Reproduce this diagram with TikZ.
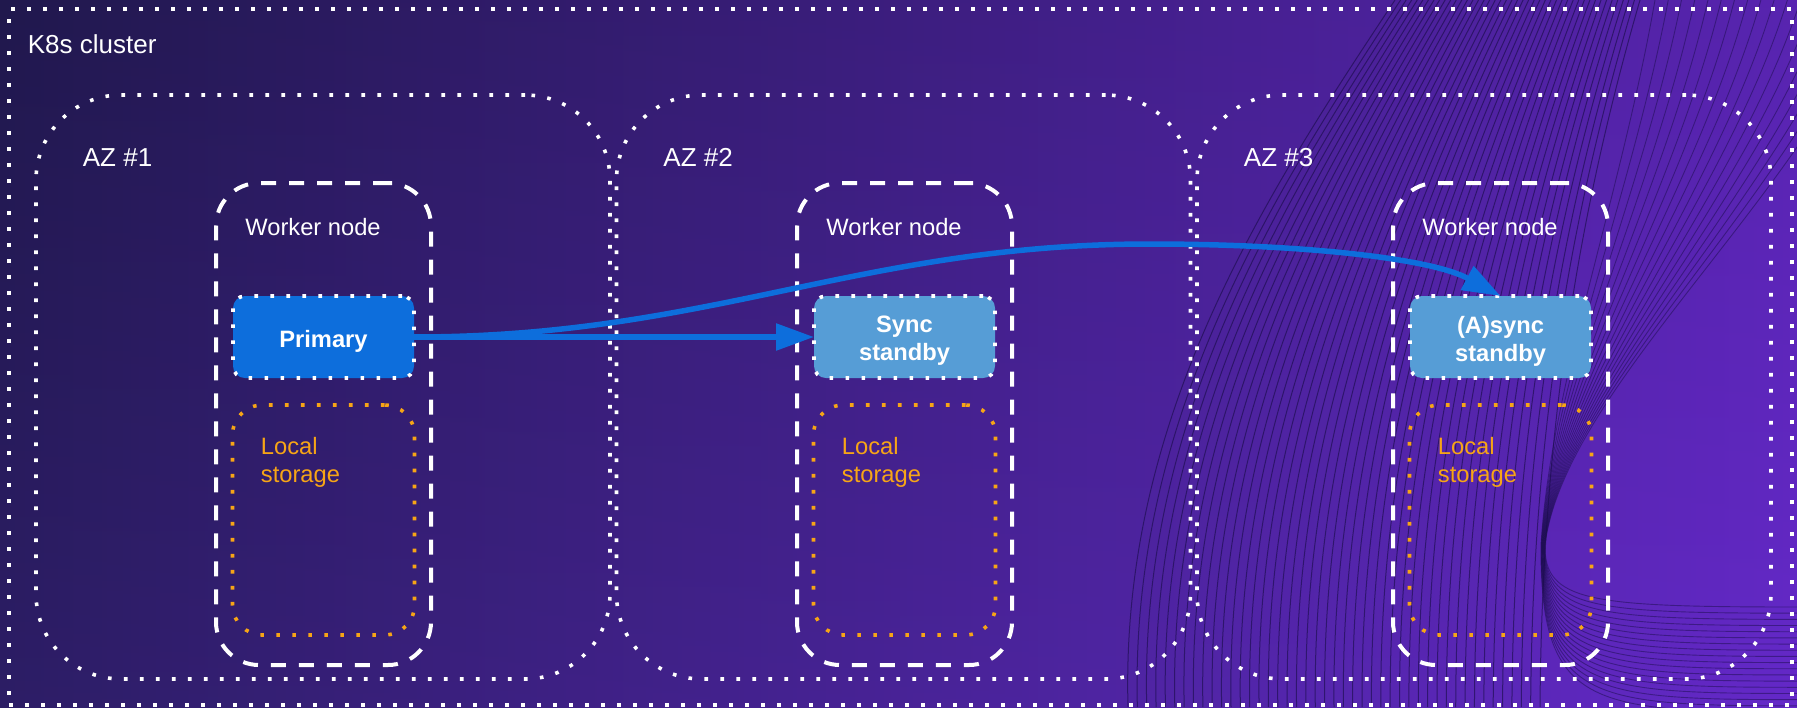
\documentclass[tikz,border=0pt]{standalone}
\usepackage{fontspec}
\setmainfont{Liberation Sans}
\usetikzlibrary{arrows.meta}

\definecolor{bgleft}{RGB}{36,27,86}
\definecolor{bgright}{RGB}{98,40,196}
\definecolor{bgglow}{RGB}{120,50,240}
\definecolor{waveink}{RGB}{28,14,78}
\definecolor{primaryblue}{RGB}{13,110,220}
\definecolor{standbyblue}{RGB}{86,157,214}
\definecolor{storeorange}{RGB}{247,165,22}

\tikzset{
  dotline/.style={line width=1.8pt, dash pattern=on 1.8pt off 6.2pt},
  boxbase/.style={rectangle, inner sep=0pt, outer sep=0pt, anchor=north west},
  clusterbox/.style={boxbase, draw=white, line width=1.8pt, dash pattern=on 1.8pt off 6.2pt,
    minimum width=891.5pt, minimum height=348pt},
  azbox/.style={boxbase, draw=white, dotline, rounded corners=42.5pt,
    minimum width=287pt, minimum height=292pt},
  workerbox/.style={boxbase, draw=white, line width=2pt, dash pattern=on 7.5pt off 6.5pt,
    rounded corners=21.5pt, minimum width=107.5pt, minimum height=241pt},
  storebox/.style={boxbase, draw=storeorange, dotline, rounded corners=15pt,
    minimum width=91pt, minimum height=115pt},
  rolebox/.style={boxbase, draw=white, dotline, rounded corners=6pt,
    minimum width=90.5pt, minimum height=41pt},
  headlbl/.style={text=white, font=\fontsize{13}{15.6}\selectfont, anchor=base west, inner sep=0pt},
  workerlbl/.style={text=white, font=\fontsize{11.85}{14}\selectfont, anchor=base west, inner sep=0pt},
  storelbl/.style={text=storeorange, font=\fontsize{11.85}{14}\selectfont, align=left,
    anchor=base west, inner sep=0pt},
  rolelbl/.style={text=white, font=\bfseries\fontsize{11.85}{14}\selectfont, align=center,
    inner sep=0pt, yshift=-2pt},
  flowarrow/.style={draw=primaryblue, line width=2.75pt, -{Triangle[length=19pt,width=13pt]}},
  waveline/.style={draw=waveink, line width=0.5pt, opacity=0.65},
  wavefaint/.style={draw=waveink, line width=0.45pt, opacity=0.5},
}

\begin{document}
\begin{tikzpicture}[x=0.5pt, y=-0.5pt]
\useasboundingbox (0,0) rectangle (1797,707);

% background gradient
\fill[left color=bgleft, right color=bgright] (0,0) rectangle (1797,707);
\shade[top color=black, bottom color=bgglow, fill opacity=0.1] (0,0) rectangle (1797,707);

% twisted ribbon of thin lines
\begin{scope}
  \clip (0,0) rectangle (1797,707);
  % strands running down to the bottom edge
  \foreach \i in {0,...,44}{
    \pgfmathsetmacro{\s}{\i/44}
    \draw[waveline] ({1395+245*\s},0) .. controls ({1262+320*\s},200) and ({1120+422*\s},420) .. ({1128+412*\s},707);
  }
  % strands that squeeze through the neck and turn to the right
  \foreach \i in {0,...,17}{
    \pgfmathsetmacro{\u}{\i/17}
    \draw[wavefaint] ({1655+225*\u},0) .. controls ({1620+180*\u},200) and ({1550+14*\u},390) .. ({1541+4*\u},545)
      .. controls ({1540+4*\u},{707-105*\u}) and (1590,{712-105*\u}) .. (1800,{712-105*\u});
  }
\end{scope}

% cluster
\node[clusterbox] (cluster) at (9,9) {};
\node[headlbl] (lblcluster) at (27.5,53) {K8s cluster};

% availability zones
\node[azbox] (az1) at (36,95) {};
\node[azbox] (az2) at (616.5,95) {};
\node[azbox] (az3) at (1197,95) {};
\node[headlbl] (lblaz1) at (82.5,166) {AZ \#1};
\node[headlbl] (lblaz2) at (663,166) {AZ \#2};
\node[headlbl] (lblaz3) at (1243.5,166) {AZ \#3};

% worker nodes
\node[workerbox] (wn1) at (216,183) {};
\node[workerbox] (wn2) at (797,183) {};
\node[workerbox] (wn3) at (1393,183) {};
\node[workerlbl] (lblwn1) at (245,235) {Worker node};
\node[workerlbl] (lblwn2) at (826,235) {Worker node};
\node[workerlbl] (lblwn3) at (1422,235) {Worker node};

% local storage (base anchor sits on the last line)
\node[storebox] (store1) at (232.5,405) {};
\node[storebox] (store2) at (813.5,405) {};
\node[storebox] (store3) at (1409.5,405) {};
\node[storelbl] (lblstore1) at (260.5,482) {Local\\storage};
\node[storelbl] (lblstore2) at (841.5,482) {Local\\storage};
\node[storelbl] (lblstore3) at (1437.5,482) {Local\\storage};

% database instances
\node[rolebox, fill=primaryblue] (primary) at (233,296) {};
\node[rolebox, fill=standbyblue] (sync) at (814,296) {};
\node[rolebox, fill=standbyblue] (async) at (1410,296) {};
\node[rolelbl] (lblprimary) at (primary.center) {Primary};
\node[rolelbl] (lblsync) at (sync.center) {Sync\\standby};
\node[rolelbl] (lblasync) at (async.center) {(A)sync\\standby};

% replication
\draw[flowarrow] (primary.east) -- (sync.west);
\draw[flowarrow] (primary.east) .. controls (710,337) and (860,244) .. (1150,244)
  .. controls (1300,244) and (1430,258) .. (async.north);
\end{tikzpicture}
\end{document}
